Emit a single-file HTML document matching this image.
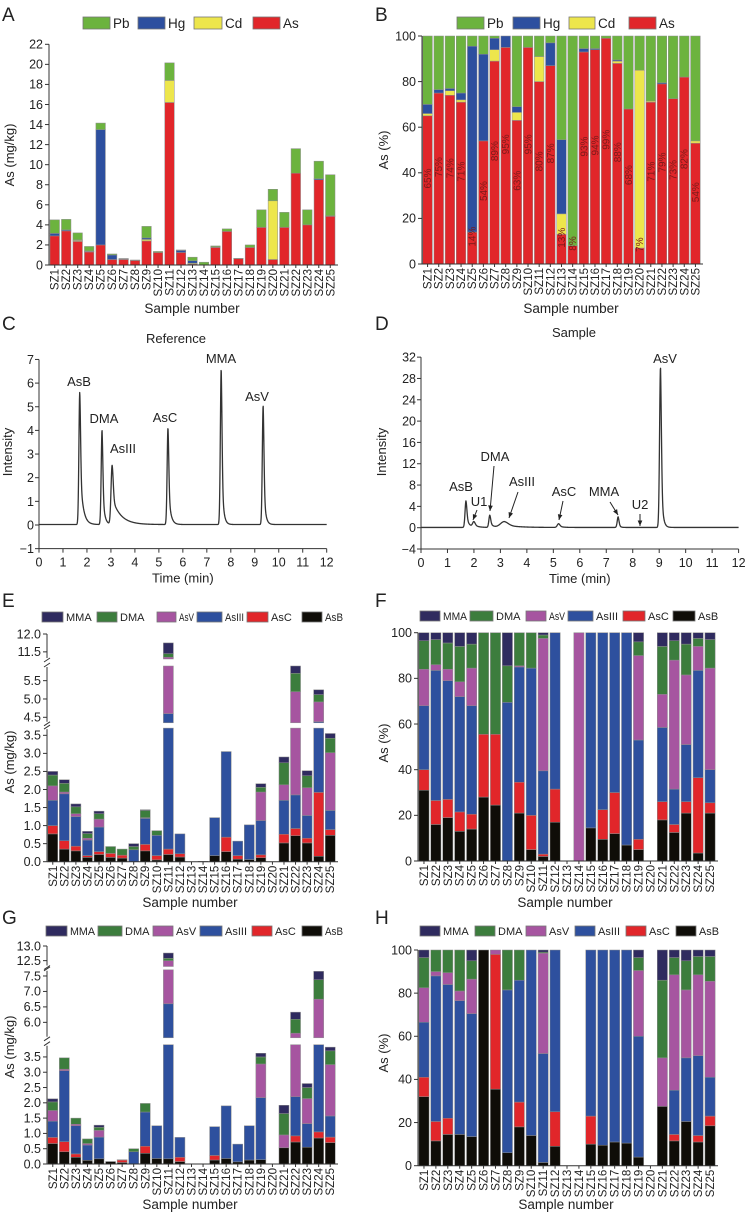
<!DOCTYPE html>
<html><head><meta charset="utf-8"><style>
html,body{margin:0;padding:0;background:#fff;}
svg{display:block;font-family:"Liberation Sans",Arial,sans-serif;}
</style></head><body>
<svg id="fig" width="746" height="1216" viewBox="0 0 746 1216" xmlns="http://www.w3.org/2000/svg"></svg>
<script>
// ---------- DATA ----------
const cats=["SZ1","SZ2","SZ3","SZ4","SZ5","SZ6","SZ7","SZ8","SZ9","SZ10","SZ11","SZ12","SZ13","SZ14","SZ15","SZ16","SZ17","SZ18","SZ19","SZ20","SZ21","SZ22","SZ23","SZ24","SZ25"];
// Panel A (mg/kg)
const aAs=[2.9,3.4,2.35,1.3,2.0,0.55,0.55,0.45,2.4,1.25,16.2,1.25,0.1,0.02,1.75,3.35,0.65,1.75,3.75,0.55,3.75,9.15,4.0,8.5,4.85];
const aCd=[0,0,0.1,0.05,0,0,0.03,0,0.15,0,2.2,0,0.08,0,0,0,0,0,0,5.85,0,0,0,0,0.05];
const aHg=[0.25,0.1,0.05,0.05,11.5,0.45,0.02,0,0.15,0,0,0.2,0.25,0,0.05,0,0,0,0,0,0,0,0,0.1,0];
const aPb=[1.35,1.05,0.7,0.45,0.65,0.1,0.05,0.05,1.15,0.1,1.75,0.05,0.35,0.26,0.1,0.25,0.01,0.25,1.75,1.15,1.5,2.45,1.5,1.75,4.1];
const aTicks=[0,2,4,6,8,10,12,14,16,18,20,22];
// Panel B (%)
const bAs=[65,75,74,71,14,54,89,95,63,95,80,87,13,8,93,94,99,88,68,7,71,79,72.5,82,53];
const bCd=[1,0,2,1,0,0,5,0,3.5,0,11,0,9,0,0,0,0,1,0,78,0.5,0,0,0,1];
const bHg=[4,1.5,1,3,81.5,38,5,5,2.5,0,0,10,32.5,0,1.5,0.5,0,0.5,0,0,0,0.5,0,0,0];
const bPb=[30,23.5,23,25,4.5,8,1,0,31,5,9,3,45.5,92,5.5,5.5,1,10.5,32,15,28.5,20.5,27.5,18,46];
const bLabels=["65%","75%","74%","71%","14%","54%","89%","95%","63%","95%","80%","87%","13%","8%","93%","94%","99%","88%","68%","7%","71%","79%","73%","82%","54%"];
const pctTicks=[0,20,40,60,80,100];
// Panel C chromatogram (reference)
const cNames=["AsB","DMA","AsIII","AsC","MMA","AsV"];
const cTimes=[1.7,2.63,3.05,5.38,7.6,9.35];
const cHeights=[5.6,4.0,2.5,4.1,6.6,5.05];
const cTails=[0.12,0.08,0.35,0.09,0.07,0.07];
const cSigmas=[0.035,0.035,0.045,0.035,0.035,0.035];
const cYTicks=[-1,0,1,2,3,4,5,6,7];
// Panel D chromatogram (sample)
const dNames=["AsB","U1","DMA","AsIII","AsC","MMA","U2","AsV"];
const dTimes=[1.7,2.0,2.6,3.15,5.2,7.45,8.25,9.05];
const dHeights=[5.0,1.0,2.3,1.1,0.7,2.0,0,30.2];
const dTails=[0.1,0.15,0.1,0.45,0.12,0.05,0.05,0.06];
const dSigmas=[0.035,0.05,0.035,0.15,0.05,0.035,0.035,0.035];
const dYTicks=[-4,0,4,8,12,16,20,24,28,32];
const timeTicks=[0,1,2,3,4,5,6,7,8,9,10,11,12];
// Panel E (mg/kg) species
const eAsB=[0.77,0.35,0.3,0.12,0.2,0.12,0.1,0,0.3,0.05,0.2,0.13,0,0,0.17,0.28,0.07,0.06,0.11,0,0.52,0.72,0.52,0.15,0.73];
const eAsC=[0.23,0.23,0.13,0.05,0.08,0.11,0.08,0,0.18,0.12,0.15,0.09,0,0,0,0.4,0.1,0,0.08,0,0.24,0.2,0.13,1.77,0.16];
const eAsIII=[0.7,1.3,0.82,0.43,0.68,0,0,0.33,0.72,0.56,4.25,0.55,0,0,1.05,2.37,0.4,0.96,0.95,0,0.94,0.93,0.63,2.46,0.53];
const eAsV=[0.4,0.05,0.08,0.05,0.22,0,0,0,0.02,0,6.75,0,0,0.01,0,0,0,0,0.79,0,0.43,3.35,0.77,0.54,1.6];
const eDMA=[0.3,0.24,0.19,0.13,0.15,0.19,0.17,0.09,0.2,0.13,0.1,0,0,0,0,0,0,0,0.13,0,0.61,0.5,0.33,0.2,0.4];
const eMMA=[0.1,0.1,0.08,0.06,0.07,0,0,0.08,0.02,0,0.3,0,0,0,0,0,0,0,0.1,0,0.16,0.2,0.14,0.13,0.13];
const eTicks=[0,0.5,1.0,1.5,2.0,2.5,3.0,3.5,4.5,5.0,5.5,11.5,12.0];
// Panel F (%)
const fAsB=[31,16,19,13,14,28,24.5,0,21,5,2,17,0,0,14.5,9.5,12,7,5,0,18,12.5,21,3.5,21];
const fAsC=[9,10.5,8,8.5,6.5,27.5,31,0,13.5,15,1,14.5,0,0,0,13,18,0,4.5,0,8,3.5,5,33,4.5];
const fAsIII=[28,57,52,50.5,47.5,0,0,69.5,50.5,64.5,36.5,68.5,0,0,85.5,77.5,70,93,43.5,0,32.5,15.5,25,47,14.5];
const fAsV=[16,2.5,5,6.5,16.5,0,0,0,0.5,0,58,0,0,100,0,0,0,0,37,0,14.5,56.5,30.5,10.5,44.5];
const fDMA=[12.5,11,11.5,15.5,10.5,44.5,44.5,16,14.5,15.5,1.5,0,0,0,0,0,0,0,6,0,21,8.5,13.5,3.5,12.5];
const fMMA=[3.5,3,4.5,6,5,0,0,14.5,0,0,1,0,0,0,0,0,0,0,4,0,6,3.5,5,2.5,3];
// Panel G (mg/kg)
const gAsB=[0.67,0.4,0.22,0.12,0.17,0.08,0.05,0,0.35,0.18,0.17,0.08,0,0,0.13,0.18,0.07,0.13,0.14,0,0.53,0.72,0.55,0.85,0.7];
const gAsC=[0.2,0.33,0.11,0,0,0,0.08,0,0.23,0,0,0.14,0,0,0.15,0,0,0,0,0,0,0.2,0,0.2,0.18];
const gAsIII=[0.53,2.32,0.92,0.5,0.71,0,0,0.4,1.12,1.07,6.43,0.65,0,0,0.94,1.72,0.58,1.12,2.03,0,0,1.28,0.77,2.85,0.69];
const gAsV=[0.35,0.05,0.05,0.05,0.22,0,0.01,0,0,0,5.9,0,0,0,0,0,0,0,1.1,0,0.42,3.45,0.82,2.85,1.68];
const gDMA=[0.28,0.37,0.2,0.15,0.1,0,0,0.1,0.28,0,0.08,0,0,0,0,0,0,0,0.23,0,0.7,0.45,0.36,0.63,0.45];
const gMMA=[0.1,0,0,0,0.07,0,0,0,0,0,0.18,0,0,0,0,0,0,0,0.12,0,0.27,0.23,0.13,0.27,0.12];
const gTicks=[0,0.5,1.0,1.5,2.0,2.5,3.0,3.5,6.0,6.5,7.0,7.5,12.5,13.0];
// Panel H (%)
const hAsB=[32,11.5,14.5,14.5,13.5,100,35.5,6,18,14,1.5,9,0,0,10,9.5,11,10.5,4,0,27.5,11.5,20.5,11,18.5];
const hAsC=[9,9,7.5,0,0,0,62.5,0,11.5,0,0,16,0,0,13,0,0,0,0,0,0,3,0,3,4.5];
const hAsIII=[25.5,67.5,62,62,57,0,0,75.5,56.5,86,50.5,75,0,0,77,90.5,89,89.5,56,0,0,20.5,29.5,37,18];
const hAsV=[16,2,5.5,4.5,16,0,2,0,0,0,46.5,0,0,0,0,0,0,0,30.5,0,22.5,53.5,31.5,37.5,44.5];
const hDMA=[14,10,10.5,19,8.5,0,0,18.5,14,0,0.5,0,0,0,0,0,0,0,6,0,36,8,13.5,8.5,11.5];
const hMMA=[3.5,0,0,0,5,0,0,0,0,0,1,0,0,0,0,0,0,0,3.5,0,14,3.5,5,3,3];

// ---------- DRAWING ----------
const NS='http://www.w3.org/2000/svg';
const svg=document.getElementById('fig');
function mk(tag,attrs,parent,text){const e=document.createElementNS(NS,tag);for(const k in attrs)e.setAttribute(k,attrs[k]);if(text!=null)e.textContent=text;(parent||svg).appendChild(e);return e;}
const AX='#333';
const NARROW='Liberation Sans Narrow, Liberation Sans, sans-serif';
const metalCols={Pb:'#6cb33e',Hg:'#2d4f9f',Cd:'#ede64c',As:'#e1262a'};
const specCols={MMA:'#2f2b5f',DMA:'#3c7d3d',AsV:'#a655a0',AsIII:'#2e509e',AsC:'#e1262a',AsB:'#0f0d08'};

function segY(s,v){return s.y0+(v-s.lo)/(s.hi-s.lo)*(s.y1-s.y0);}
function findSeg(segs,v){for(const s of segs){if(v>=s.lo-1e-9&&v<=s.hi+1e-9)return s;}return null;}

function letter(t,x,y){const e=mk('text',{x:x,y:y,'font-size':19,fill:'#222'},svg,t);

}

function legend(items,cols,boxes,y,h,fs,fam,limit){
 const g=mk('g',{});
 
 
 items.forEach((n,i)=>{
  const r=mk('rect',{x:boxes[i][0],y:y,width:boxes[i][1]-boxes[i][0],height:h,fill:cols[n],stroke:'#777','stroke-width':0.8},g);
  
  
  const tx=boxes[i][1]+3;
  const t=mk('text',{x:tx,y:y+h/2+fs*0.36,'font-size':fs,fill:'#222','font-family':fam||'Liberation Sans, sans-serif'},g,n);
  
  
  const avail=(i<items.length-1?boxes[i+1][0]:limit)-tx-3;
  const w=t.getComputedTextLength();
  if(w>avail){t.setAttribute('textLength',avail);t.setAttribute('lengthAdjust','spacingAndGlyphs');}
 });
}

function barPanel(o){
 const g=mk('g',{});
 
 
 const segs=o.segs, yb=segs[0].y0;
 const pitch=(o.xb-o.xa)/cats.length;
 cats.forEach((c,i)=>{
  const cx=o.xa+pitch*(i+0.5);
  let tot=0; o.series.forEach(a=>{tot+=(a[i]>0?a[i]:0);});
  const k0=(o.pct&&tot>0)?100/tot:1;
  let cum=0;
  o.series.forEach((arr,k)=>{
   const v=(arr[i]>0?arr[i]:0)*k0; if(v<=0)return;
   const lo=cum,hi=cum+v;cum=hi;
   segs.forEach(s=>{
    const a=Math.max(lo,s.lo),b=Math.min(hi,s.hi); if(b<=a)return;
    const y1=segY(s,b),y0=segY(s,a);
    const r=mk('rect',{x:cx-o.bw/2,y:y1,width:o.bw,height:Math.max(0.3,y0-y1),fill:o.cols[o.names[k]],stroke:'#8d8d8d','stroke-width':0.5},g);
    
    
   });
  });
  if(o.inner){
   const v=o.series[0][i]*k0;
   const yy=segY(segs[0],v/2+5);
   const t=mk('text',{x:cx+3.5,y:yy,'font-size':10,fill:'#7a1a1a','text-anchor':'middle',transform:'rotate(-90 '+(cx+3.5)+' '+yy+')'},g,o.inner[i]);
   
   
  }
  const lx=cx+4,ly=yb+4;
  const t=mk('text',{x:lx,y:ly,'font-size':11.5,fill:'#222','text-anchor':'end',transform:'rotate(-90 '+lx+' '+ly+')'},g,c);
  
  
 });
 segs.forEach((s,j)=>{
  const top=(j==segs.length-1)?s.y1:s.y1+1;
  const bot=(j==0)?s.y0:s.y0-1;
  const l=mk('line',{x1:o.xa,x2:o.xa,y1:bot,y2:top,stroke:AX,'stroke-width':1},g);
  
  
  if(j<segs.length-1){
   [s.y1-1,segs[j+1].y0+1].forEach(yy=>{
    const m=mk('line',{x1:o.xa-3,x2:o.xa+3,y1:yy+2,y2:yy-2,stroke:AX,'stroke-width':1},g);
    
    
   });
  }
 });
 const xl=mk('line',{x1:o.xa,x2:o.xb+2,y1:yb,y2:yb,stroke:AX,'stroke-width':1},g);
 
 
 cats.forEach((c,i)=>{const cx=o.xa+pitch*(i+0.5);
  const tk=mk('line',{x1:cx,x2:cx,y1:yb,y2:yb+3,stroke:AX,'stroke-width':1},g);
  
  });
 o.ticks.forEach(v=>{
  const s=findSeg(segs,v); if(!s)return; const y=segY(s,v);
  const tk=mk('line',{x1:o.xa-4,x2:o.xa,y1:y,y2:y,stroke:AX,'stroke-width':1},g);
  
  
  const t=mk('text',{x:o.xa-6,y:y+4.3,'font-size':12.5,fill:'#222','text-anchor':'end'},g,o.fmt?v.toFixed(1):String(v));
  
  
 });
 const yt=mk('text',{x:o.ytx,y:o.yty,'font-size':13,fill:'#222','text-anchor':'middle',transform:'rotate(-90 '+o.ytx+' '+o.yty+')'},g,o.ytitle);
 
 
 const xt=mk('text',{x:o.xtx,y:o.xty,'font-size':13.5,fill:'#222','text-anchor':'middle'},g,'Sample number');
 
 
}

function peakSignal(t,times,heights,tails,sigmas){
 let s=0;
 for(let i=0;i<times.length;i++){
  const d=t-times[i], h=heights[i], sg=sigmas[i];
  if(d<0) s+=h*Math.exp(-0.5*(d/sg)*(d/sg));
  else s+=h*(0.55*Math.exp(-0.5*(d/sg)*(d/sg))+0.45*Math.exp(-d/tails[i]));
 }
 return s;
}
function chromPanel(o){
 const g=mk('g',{});
 
 
 const X=t=>o.x0+t*(o.x1-o.x0)/12;
 const Y=v=>o.yz-(v)*o.k;
 let d='';
 for(let i=0;i<=1400;i++){const t=i*12/1400;const v=peakSignal(t,o.times,o.heights,o.tails,o.sigmas)+o.base;
  d+=(i?'L':'M')+X(t).toFixed(2)+' '+Y(v).toFixed(2);}
 const p=mk('path',{d:d,fill:'none',stroke:'#333','stroke-width':1.3,'stroke-linejoin':'round'},g);
 
 
 const ya=mk('line',{x1:o.x0,x2:o.x0,y1:Y(o.yticks[0]),y2:Y(o.yticks[o.yticks.length-1]),stroke:AX,'stroke-width':1},g);
 
 
 const xa=mk('line',{x1:o.x0,x2:o.x1,y1:Y(o.yticks[0]),y2:Y(o.yticks[0]),stroke:AX,'stroke-width':1},g);
 
 
 const yb=Y(o.yticks[0]);
 o.yticks.forEach(v=>{const y=Y(v);
  const tk=mk('line',{x1:o.x0-4,x2:o.x0,y1:y,y2:y,stroke:AX},g);
  
  
  const t=mk('text',{x:o.x0-5,y:y+4.5,'font-size':12.5,fill:'#222','text-anchor':'end','font-family':NARROW},g,v<0?'\u2212'+(-v):String(v));
  
  });
 timeTicks.forEach(v=>{const x=X(v);
  const tk=mk('line',{x1:x,x2:x,y1:yb,y2:yb+4,stroke:AX},g);
  
  
  const t=mk('text',{x:x,y:yb+18,'font-size':12.5,fill:'#222','text-anchor':'middle','font-family':NARROW},g,String(v));
  
  });
 const xt=mk('text',{x:(o.x0+o.x1)/2,y:yb+34,'font-size':13,fill:'#222','text-anchor':'middle','font-family':NARROW},g,'Time (min)');
 
 
 const yt=mk('text',{x:o.ytx,y:o.yty,'font-size':13,fill:'#222','text-anchor':'middle',transform:'rotate(-90 '+o.ytx+' '+o.yty+')','font-family':NARROW},g,'Intensity');
 
 
 const ti=mk('text',{x:o.tx,y:o.ty,'font-size':13,fill:'#222','text-anchor':'middle','font-family':NARROW},g,o.title);
 
 
 o.labels.forEach(L=>{
  const t=mk('text',{x:L[1],y:L[2],'font-size':13,fill:'#222','text-anchor':'middle','font-family':NARROW},g,L[0]);
  
  
  if(L.length>3){
   const a=mk('line',{x1:L[3],y1:L[4],x2:L[5],y2:L[6],stroke:'#222','stroke-width':1},g);
   
   
   const ang=Math.atan2(L[6]-L[4],L[5]-L[3]),hx=L[5],hy=L[6];
   const pts=[[hx,hy],[hx-6*Math.cos(ang-0.4),hy-6*Math.sin(ang-0.4)],[hx-6*Math.cos(ang+0.4),hy-6*Math.sin(ang+0.4)]];
   const ah=mk('polygon',{points:pts.map(q=>q.join(',')).join(' '),fill:'#222'},g);
   
   
  }
 });
}

letter('A',2,21);letter('B',375,21);letter('C',2,330);letter('D',375,330);
letter('E',2,607);letter('F',375,607);letter('G',2,924);letter('H',375,924);

legend(['Pb','Hg','Cd','As'],metalCols,[[83,110],[138,165],[194,222],[253,280]],17,12,13.5,null,320);
legend(['Pb','Hg','Cd','As'],metalCols,[[457,484],[513,540],[569,595],[629,656]],17,12,13.5,null,700);
const sp=['MMA','DMA','AsV','AsIII','AsC','AsB'];
legend(sp,specCols,[[42,63],[97,117],[157,176],[197,222],[247,268],[302,322]],612,10,11,null,346);
legend(sp,specCols,[[420,440],[470,493],[526,546],[568,593],[623,645],[673,695]],611,10,11,null,722);
legend(sp,specCols,[[46,67],[98,122],[153,173],[200,222],[252,272],[302,322]],926,10,11,null,346);
legend(sp,specCols,[[420,440],[475,495],[526,546],[575,595],[626,646],[676,696]],926,10,11,null,722);

barPanel({name:'panel-a-chart',xa:49,xb:336,bw:9.5,segs:[{lo:0,hi:22,y0:265,y1:44.3}],series:[aAs,aCd,aHg,aPb],names:['As','Cd','Hg','Pb'],cols:metalCols,ticks:aTicks,ytitle:'As (mg/kg)',ytx:14,yty:155,xtx:192,xty:313});
barPanel({name:'panel-b-chart',xa:422,xb:701,bw:9.6,pct:true,segs:[{lo:0,hi:100,y0:264,y1:36}],series:[bAs,bCd,bHg,bPb],names:['As','Cd','Hg','Pb'],cols:metalCols,ticks:pctTicks,ytitle:'As (%)',ytx:388,yty:150,xtx:571,xty:313,inner:bLabels});
barPanel({name:'panel-e-chart',xa:47,xb:336,bw:10,fmt:true,segs:[{lo:0,hi:3.7,y0:861.7,y1:728.1},{lo:4.35,hi:5.9,y0:722.8,y1:666},{lo:11.3,hi:12.0,y0:659,y1:634}],series:[eAsB,eAsC,eAsIII,eAsV,eDMA,eMMA],names:['AsB','AsC','AsIII','AsV','DMA','MMA'],cols:specCols,ticks:eTicks,ytitle:'As (mg/kg)',ytx:14,yty:762,xtx:190,xty:907});
barPanel({name:'panel-f-chart',xa:418,xb:716,bw:10.2,pct:true,segs:[{lo:0,hi:100,y0:861,y1:632.7}],series:[fAsB,fAsC,fAsIII,fAsV,fDMA,fMMA],names:['AsB','AsC','AsIII','AsV','DMA','MMA'],cols:specCols,ticks:pctTicks,ytitle:'As (%)',ytx:388,yty:743,xtx:565,xty:907});
barPanel({name:'panel-g-chart',xa:47,xb:336,bw:10,fmt:true,segs:[{lo:0,hi:3.9,y0:1164,y1:1044.7},{lo:5.5,hi:7.7,y0:1037.8,y1:969.8},{lo:12.3,hi:13.0,y0:966.5,y1:946}],series:[gAsB,gAsC,gAsIII,gAsV,gDMA,gMMA],names:['AsB','AsC','AsIII','AsV','DMA','MMA'],cols:specCols,ticks:gTicks,ytitle:'As (mg/kg)',ytx:14,yty:1047,xtx:190,xty:1209});
barPanel({name:'panel-h-chart',xa:418,xb:716,bw:10.2,pct:true,segs:[{lo:0,hi:100,y0:1165.7,y1:950}],series:[hAsB,hAsC,hAsIII,hAsV,hDMA,hMMA],names:['AsB','AsC','AsIII','AsV','DMA','MMA'],cols:specCols,ticks:pctTicks,ytitle:'As (%)',ytx:388,yty:1053,xtx:566,xty:1209});

chromPanel({name:'panel-c-chart',x0:39,x1:326.7,yz:525,k:23.65,base:0.02,times:cTimes,heights:cHeights,tails:cTails,sigmas:cSigmas,yticks:cYTicks,ytx:12,yty:452,title:'Reference',tx:176,ty:343,
 labels:[['AsB',79,386],['DMA',104,423],['AsIII',123,453],['AsC',165,422],['MMA',221,363],['AsV',257,401]]});
chromPanel({name:'panel-d-chart',x0:421,x1:738.6,yz:527.7,k:5.33,base:0.05,times:dTimes,heights:dHeights,tails:dTails,sigmas:dSigmas,yticks:dYTicks,ytx:386,yty:452,title:'Sample',tx:574,ty:337,
 labels:[['AsB',461,491],['U1',479,506,477,510,473,520],['DMA',495,461,494,466,490,511],['AsIII',522,486,518,492,509,518],['AsC',564,496,563,501,559,520],['MMA',604,496,610,502,618,515],['U2',640,509,640,514,640,526],['AsV',665,363]]});
</script>
</body></html>
